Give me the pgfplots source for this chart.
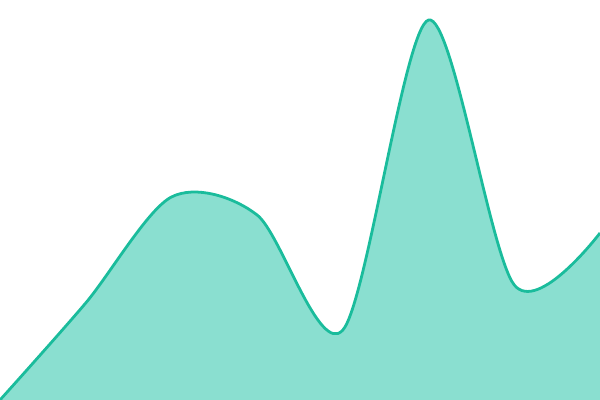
\documentclass[border=0pt]{standalone}
\usepackage{pgfplots}
\pgfplotsset{compat=1.18}
\definecolor{turq}{HTML}{1ABC9C}
\definecolor{turqfill}{HTML}{8ADFD0}

\begin{document}
\begin{tikzpicture}
  \begin{axis}[
      width=450bp, height=300bp,
      scale only axis,
      hide axis,
      xmin=0, xmax=7,
      ymin=0, ymax=400,
      clip=true,
  ]
  \addplot[smooth, fill=turqfill, draw=none]
      coordinates {
      (0,0)(1,97)(2,203)(3,185)(4,70)(5,380)(6,115)(7,167)
      } \closedcycle;
  \addplot[smooth, color=turq, line width=2.1pt]
      coordinates {
      (0,0)(1,97)(2,203)(3,185)(4,70)(5,380)(6,115)(7,167)
      };
  \end{axis}
  \pgfresetboundingbox
  \path[use as bounding box] (current axis.south west) rectangle (current axis.north east);
\end{tikzpicture}
\end{document}
